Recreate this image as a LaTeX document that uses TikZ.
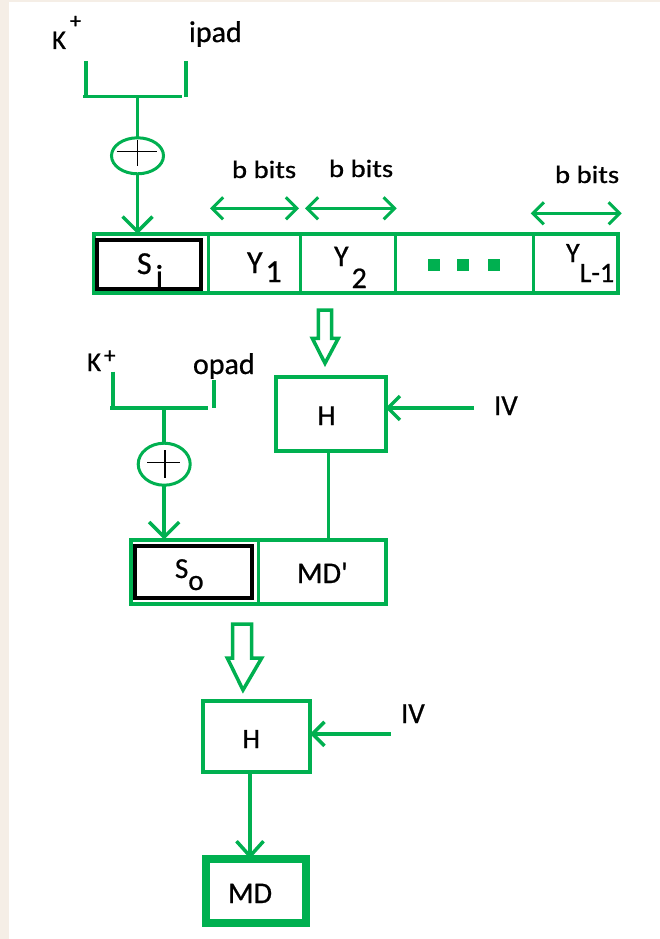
\documentclass[tikz,border=0pt]{standalone}
\usepackage{fontspec}
\setmainfont[FakeBold=0.7]{Carlito}
\newfontfamily\widefont[FakeStretch=1.15,FakeBold=0.7]{Carlito}
\usetikzlibrary{arrows.meta,shapes.geometric}
\definecolor{hgreen}{RGB}{0,176,80}
\definecolor{bgtan}{RGB}{245,238,230}
\newcommand\fsz[1]{\fontsize{#1pt}{#1pt}\selectfont}
\begin{document}
\begin{tikzpicture}[x=1pt,y=-1pt,
  lbl/.style={inner sep=0pt,outer sep=0pt,anchor=base west,text=black},
  gbox/.style={draw=hgreen,line width=4pt,rectangle,inner sep=0pt,outer sep=0pt},
  kbox/.style={draw=black,line width=4pt,rectangle,inner sep=0pt,outer sep=0pt},
  gline/.style={draw=hgreen,line width=3.5pt},
  divline/.style={draw=hgreen,line width=3pt},
  downarr/.style={gline,-{Straight Barb[length=15pt,width=30pt]}},
  ivarr/.style={gline,-{Straight Barb[length=12pt,width=24pt]}},
  dimarr/.style={draw=hgreen,line width=3pt,{Straight Barb[length=11pt,width=22pt]}-{Straight Barb[length=11pt,width=22pt]}},
  blockarr/.style={draw=hgreen,line width=3.5pt,line join=miter},
  xorc/.style={ellipse,draw=hgreen,line width=3pt,inner sep=0pt,outer sep=0pt},
  pluss/.style={draw=black,line width=1.2pt},
  dotsq/.style={fill=hgreen,minimum size=12pt,inner sep=0pt,rectangle}
]
\useasboundingbox (0,0) rectangle (660,939);
\fill[bgtan] (0,0) rectangle (9,939);
\fill[bgtan] (0,0) rectangle (660,2);

% ---------- top: K+ xor ipad ----------
\node[lbl,font=\fsz{27}] (k1) at (52,49) {K\hspace{4pt}\raisebox{21pt}{\fsz{22}+}};
\node[lbl,font=\fsz{30}] (ipad) at (189,42) {ipad};
\coordinate (b1l) at (85.8,61);
\coordinate (b1r) at (186.2,61);
\coordinate (j1) at (138.3,96.3);
\draw[gline] (b1l) -- (85.8,96.3);
\draw[gline] (83.3,96.3) -- (181.7,96.3);
\draw[gline] (b1r) -- (186.2,97);
\node[xorc,minimum width=52pt,minimum height=36pt] (xor1) at (137.5,155.8) {};
\draw[pluss] (116.7,151.7) -- (156.7,151.7);
\draw[pluss] (137.3,140) -- (137.3,166);
\draw[gline] (xor1.north) -- (xor1.north |- j1);

% ---------- message row ----------
\node[gbox,minimum width=524.5pt,minimum height=58.5pt] (row) at (355.75,263.25) {};
\node[kbox,minimum width=104pt,minimum height=49pt] (si) at (149,264.5) {};
\draw[divline] (208.5,234) -- (208.5,292.5);
\draw[divline] (300,234) -- (300,292.5);
\draw[divline] (395,234) -- (395,292.5);
\draw[divline] (533,234) -- (533,292.5);
\draw[downarr] (xor1.south) -- (xor1.south |- row.north);

\node[lbl,font=\fsz{32}] (silbl) at (137,274) {S\hspace{4pt}\raisebox{-13pt}{i}};
\node[lbl,font=\fsz{32}] (y1lbl) at (247,273) {Y\hspace{3pt}\raisebox{-9pt}{1}};
\node[lbl,font=\fsz{30}] (y2lbl) at (334,266) {Y\hspace{3pt}\raisebox{-22pt}{2}};
\node[lbl,font=\fsz{28}] (yllbl) at (566,262) {Y\raisebox{-20pt}{L-1}};
\node[dotsq] (d1) at (433.5,265) {};
\node[dotsq] (d2) at (462.5,265) {};
\node[dotsq] (d3) at (494,265) {};

% b bits
\node[lbl,font=\widefont\fsz{25}] (bb1) at (232,178) {b bits};
\node[lbl,font=\widefont\fsz{25}] (bb2) at (329,177) {b bits};
\node[lbl,font=\widefont\fsz{25}] (bb3) at (555,183) {b bits};
\coordinate (a1l) at (210,208.3);
\coordinate (a1r) at (299,208.3);
\coordinate (a2l) at (305,208.3);
\coordinate (a2r) at (396.7,208.3);
\coordinate (a3l) at (530.7,213.3);
\coordinate (a3r) at (621.7,213.3);
\draw[dimarr] (a1l) -- (a1r);
\draw[dimarr] (a2l) -- (a2r);
\draw[dimarr] (a3l) -- (a3r);

% ---------- first hash ----------
\draw[blockarr] (318.3,310) -- (331.7,310) -- (331.7,338.3) -- (338.3,338.3) -- (325,363.3) -- (312.3,338.3) -- (318.3,338.3) -- cycle;
\node[gbox,minimum width=109.5pt,minimum height=73.5pt] (h1) at (330.75,413.75) {};
\node[lbl,font=\fsz{29}] (h1lbl) at (317.5,425) {H};
\coordinate (iv1s) at (474,408);
\draw[ivarr] (iv1s) -- (h1.east |- iv1s);
\node[lbl,font=\fsz{29}] (iv1) at (494,415) {IV};

% ---------- outer key ----------
\node[lbl,font=\fsz{27}] (k2) at (87,371) {K\hspace{3pt}\raisebox{8pt}{\fsz{23}+}};
\node[lbl,font=\fsz{30}] (opad) at (193,374) {opad};
\coordinate (b2l) at (113,371.7);
\coordinate (b2r) at (214,380);
\coordinate (j2) at (164.2,408);
\draw[gline] (b2l) -- (113,408);
\draw[gline] (110,408) -- (208.3,408);
\draw[gline] (b2r) -- (214,408.3);
\node[xorc,minimum width=52pt,minimum height=42pt] (xor2) at (164.2,464.2) {};
\draw[pluss] (147.3,462.3) -- (180,462.3);
\draw[pluss] (165,450) -- (165,478.3);
\draw[gline] (xor2.north) -- (xor2.north |- j2);

% ---------- second row ----------
\node[gbox,minimum width=255.5pt,minimum height=64.5pt] (row2) at (258.25,571.75) {};
\node[kbox,minimum width=117pt,minimum height=51.5pt] (so) at (193.5,571.75) {};
\draw[divline] (258.3,539.5) -- (258.3,604);
\draw[downarr] (xor2.south) -- (xor2.south |- row2.north);
\coordinate (h1b) at (328.7,450.5);
\draw[gline] (h1b) -- (h1b |- row2.north);
\node[lbl,font=\fsz{29}] (solbl) at (175,578) {S\raisebox{-12pt}{o}};
\node[lbl,font=\fsz{30}] (mdp) at (297,583) {MD\textquotesingle};

% ---------- second hash ----------
\draw[blockarr] (232.5,624) -- (251.5,624) -- (251.5,658) -- (261.7,658) -- (243,690) -- (227.3,658) -- (232.5,658) -- cycle;
\node[gbox,minimum width=106.7pt,minimum height=70.9pt] (h2) at (256.65,736.25) {};
\node[lbl,font=\fsz{28}] (h2lbl) at (242.5,748) {H};
\coordinate (iv2s) at (390.7,733.8);
\draw[ivarr] (iv2s) -- (h2.east |- iv2s);
\node[lbl,font=\fsz{29}] (iv2) at (401,723) {IV};

\node[draw=hgreen,line width=8pt,rectangle,inner sep=0pt,outer sep=0pt,minimum width=100pt,minimum height=63.7pt] (md) at (255.8,890.65) {};
\node[lbl,font=\fsz{30}] (mdlbl) at (228,903) {MD};
\coordinate (h2b) at (250,771.7);
\draw[gline,-{Straight Barb[length=15pt,width=27pt]}] (h2b) -- (h2b |- md.north);
\end{tikzpicture}
\end{document}
